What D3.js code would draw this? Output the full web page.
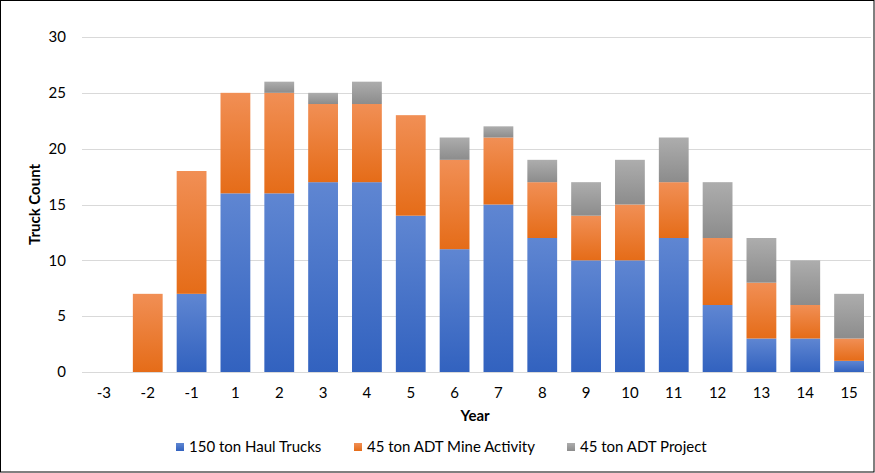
<!DOCTYPE html>
<html>
<head>
<meta charset="utf-8">
<script src="https://cdn.jsdelivr.net/npm/d3@7"></script>
<style>
  body { margin: 0; background: #fff; }
  svg { display: block; font-family: Lato, 'Open Sans', sans-serif; }
</style>
</head>
<body>
<div id="chart"></div>
<script>
const years = ['-3', '-2', '-1', '1', '2', '3', '4', '5', '6', '7', '8', '9', '10', '11', '12', '13', '14', '15']
const haulTrucks = [0, 0, 7, 16, 16, 17, 17, 14, 11, 15, 12, 10, 10, 12, 6, 3, 3, 1]
const mineActivity = [0, 7, 11, 9, 9, 7, 7, 9, 8, 6, 5, 4, 5, 5, 6, 5, 3, 2]
const project = [0, 0, 0, 0, 1, 1, 2, 0, 2, 1, 2, 3, 4, 4, 5, 4, 4, 4]
const seriesNames = ['150 ton Haul Trucks', '45 ton ADT Mine Activity', '45 ton ADT Project']
const yTicks = [0, 5, 10, 15, 20, 25, 30]

const width = 875
const height = 473
const margin = { top: 37, right: 4, bottom: 101, left: 82 }
const fontSize = 15

const svg = d3.select('#chart')
    .append('svg')
    .attr('width', width)
    .attr('height', height)

svg.append('rect')
    .attr('x', 0.5).attr('y', 0.5)
    .attr('width', width - 1.5).attr('height', height - 1.5)
    .attr('fill', '#fff')
    .attr('stroke', '#000')

const colours = [
    { key: 'blue', top: '#5f86d2', bottom: '#3262bf' },
    { key: 'orange', top: '#f18f55', bottom: '#e56c18' },
    { key: 'grey', top: '#adadad', bottom: '#8c8c8c' },
]
const defs = svg.append('defs')
colours.forEach(c => {
    const g = defs.append('linearGradient')
        .attr('id', `grad-${c.key}`)
        .attr('x1', 0).attr('y1', 0).attr('x2', 0).attr('y2', 1)
    g.append('stop').attr('offset', '0%').attr('stop-color', c.top)
    g.append('stop').attr('offset', '100%').attr('stop-color', c.bottom)
})

const x = d3.scaleBand()
    .domain(years)
    .range([margin.left, width - margin.right])
    .paddingInner(0.32)
    .paddingOuter(0.16)

const y = d3.scaleLinear()
    .domain([0, 30])
    .range([height - margin.bottom, margin.top])

// gridlines
svg.append('g')
    .selectAll('line')
    .data(yTicks)
    .enter()
    .append('line')
    .attr('x1', margin.left)
    .attr('x2', width - margin.right)
    .attr('y1', d => Math.round(y(d)) + 0.5)
    .attr('y2', d => Math.round(y(d)) + 0.5)
    .attr('stroke', '#d9d9d9')

const table = years.map((yr, i) => ({
    year: yr,
    s0: haulTrucks[i],
    s1: mineActivity[i],
    s2: project[i],
}))
const stacked = d3.stack().keys(['s0', 's1', 's2'])(table)

svg.append('g')
    .selectAll('g')
    .data(stacked)
    .enter()
    .append('g')
    .attr('fill', (d, i) => `url(#grad-${colours[i].key})`)
    .selectAll('rect')
    .data(d => d.filter(v => v[1] > v[0]))
    .enter()
    .append('rect')
    .attr('x', d => x(d.data.year))
    .attr('width', x.bandwidth())
    .attr('y', d => y(d[1]))
    .attr('height', d => y(d[0]) - y(d[1]))

// y tick labels
svg.append('g')
    .selectAll('text')
    .data(yTicks)
    .enter()
    .append('text')
    .attr('x', 66)
    .attr('y', d => y(d))
    .attr('dy', '0.35em')
    .attr('text-anchor', 'end')
    .attr('font-size', fontSize)
    .attr('fill', '#000')
    .text(d => d)

// x tick labels
svg.append('g')
    .selectAll('text')
    .data(years)
    .enter()
    .append('text')
    .attr('x', d => x(d) + x.bandwidth() / 2)
    .attr('y', 393)
    .attr('dy', '0.35em')
    .attr('text-anchor', 'middle')
    .attr('font-size', fontSize)
    .attr('fill', '#000')
    .text(d => d)

svg.append('text')
    .attr('x', 475)
    .attr('y', 416)
    .attr('dy', '0.35em')
    .attr('text-anchor', 'middle')
    .attr('font-size', fontSize)
    .attr('font-weight', 'bold')
    .text('Year')

svg.append('text')
    .attr('transform', `translate(35, ${y(15)}) rotate(-90)`)
    .attr('dy', '0.35em')
    .attr('text-anchor', 'middle')
    .attr('font-size', fontSize)
    .attr('font-weight', 'bold')
    .text('Truck Count')

// legend
const legendX = [176, 354, 567]
const legendEntry = svg.append('g')
    .selectAll('g')
    .data(seriesNames)
    .enter()
    .append('g')
    .attr('transform', (d, i) => `translate(${legendX[i]}, 447)`)
legendEntry.append('rect')
    .attr('x', 0).attr('y', -4)
    .attr('width', 8).attr('height', 8)
    .attr('fill', (d, i) => `url(#grad-${colours[i].key})`)
legendEntry.append('text')
    .attr('x', 13)
    .attr('dy', '0.35em')
    .attr('font-size', fontSize)
    .attr('fill', '#000')
    .text(d => d)
</script>
</body>
</html>
